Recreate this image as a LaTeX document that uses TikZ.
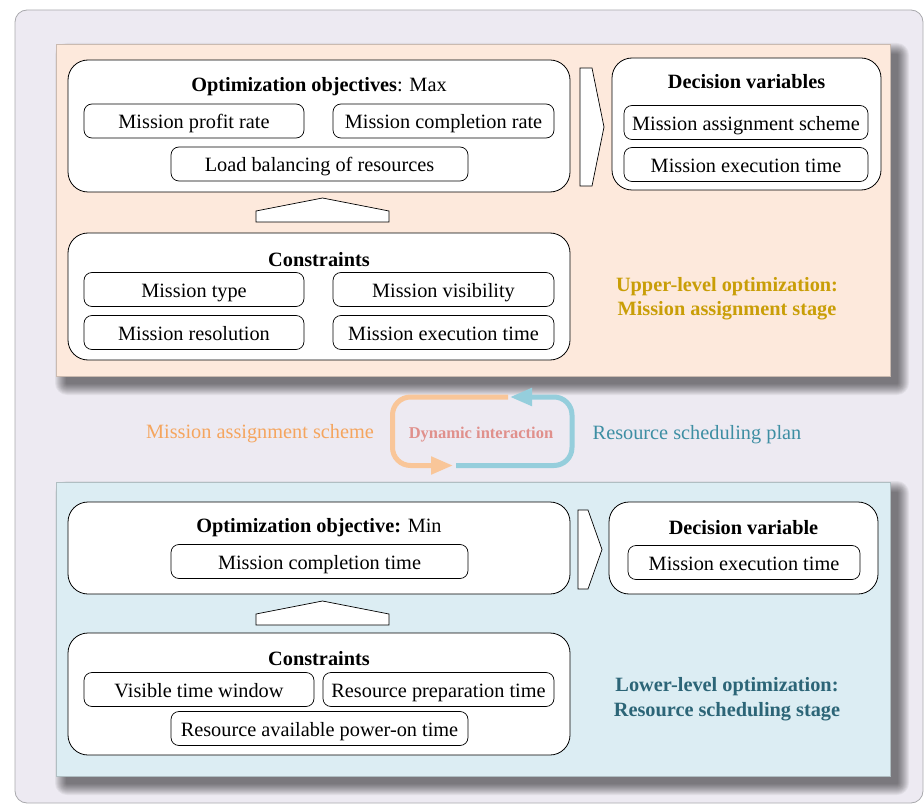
\documentclass[tikz,border=0pt]{standalone}
\usepackage{fontspec}
\setmainfont{Liberation Serif}
\usetikzlibrary{arrows.meta}
\definecolor{framefill}{HTML}{EDEAF2}
\definecolor{framedraw}{HTML}{A9A9AD}
\definecolor{upperfill}{HTML}{FDE9DC}
\definecolor{lowerfill}{HTML}{DCEDF3}
\definecolor{orangeline}{HTML}{F9C699}
\definecolor{tealline}{HTML}{95CEDC}
\definecolor{orangetext}{HTML}{F5A55E}
\definecolor{tealtext}{HTML}{3D8EA3}
\definecolor{dyntext}{HTML}{E0908C}
\definecolor{uppertitle}{HTML}{C99E07}
\definecolor{lowertitle}{HTML}{2C6577}
\begin{document}
\begin{tikzpicture}[x=1pt,y=-1pt,
  font=\fontsize{20.3}{24}\selectfont,
  panel/.style={fill=#1, draw=#1!80!black, line width=0.6pt, inner sep=0pt},
  shadowlayer/.style={fill=black, opacity=0.05},
  bigbox/.style={draw, fill=white, rounded corners=20pt, line width=0.8pt, inner sep=0pt},
  itembox/.style={draw, fill=white, rounded corners=8pt, line width=0.7pt, inner sep=0pt, minimum height=34pt, text height=16pt, text depth=0pt},
  titletext/.style={inner sep=0pt, anchor=base},
  chevron/.style={draw, fill=white, line width=0.7pt, line join=miter},
  stagelabel/.style={font=\fontsize{20.3}{24}\selectfont\bfseries, inner sep=0pt, anchor=base},
  flow/.style={line width=5pt, rounded corners=18pt, -{Triangle[length=22pt,width=17pt]}}
]
\useasboundingbox (0,0) rectangle (924,805);
% outer frame
\node[draw=framedraw, fill=framefill, rounded corners=12pt, minimum width=908pt, minimum height=793pt, inner sep=0pt, line width=0.8pt] (frame) at (469,406.5) {};
% panel shadows
\foreach \r in {1,...,12} {
  \fill[shadowlayer, rounded corners=\r pt] (67-\r,55-\r) rectangle (897+\r,383+\r);
  \fill[shadowlayer, rounded corners=\r pt] (67-\r,493-\r) rectangle (897+\r,783+\r);
}
% panels
\node[panel=upperfill, minimum width=834pt, minimum height=332pt] (upper) at (473,210) {};
\node[panel=lowerfill, minimum width=834pt, minimum height=294pt] (lower) at (473,629) {};

% ---------- upper level ----------
\node[bigbox, minimum width=502pt, minimum height=132pt] (obj1) at (319,126) {};
\node[titletext] (obj1t) at (319,92) {\textbf{Optimization objectives}: Max};
\node[itembox, minimum width=220pt] (u1) at (194,121) {Mission profit rate};
\node[itembox, minimum width=221pt] (u2) at (443.5,121) {Mission completion rate};
\node[itembox, minimum width=297pt] (u3) at (319.5,164) {Load balancing of resources};

\node[bigbox, minimum width=269pt, minimum height=132pt] (dec1) at (746.5,124) {};
\node[titletext] (dec1t) at (746.5,89) {\textbf{Decision variables}};
\node[itembox, minimum width=244pt] (u4) at (746,122.5) {Mission assignment scheme};
\node[itembox, minimum width=244pt] (u5) at (746,164.5) {Mission execution time};

\node[bigbox, minimum width=502pt, minimum height=127pt] (con1) at (319,296.5) {};
\node[titletext] (con1t) at (319,266) {\textbf{Constraints}};
\node[itembox, minimum width=220pt] (u6) at (194,289.5) {Mission type};
\node[itembox, minimum width=221pt] (u7) at (443.5,289.5) {Mission visibility};
\node[itembox, minimum width=220pt] (u8) at (194,332.5) {Mission resolution};
\node[itembox, minimum width=221pt] (u9) at (443.5,332.5) {Mission execution time};

\draw[chevron] (580,68) -- (592,68) -- (604,127) -- (592,186) -- (580,186) -- cycle;
\draw[chevron] (256,222) -- (256,211) -- (322.5,198) -- (389,211) -- (389,222) -- cycle;

\node[stagelabel, text=uppertitle] (ulab1) at (727,291) {Upper-level optimization:};
\node[stagelabel, text=uppertitle] (ulab2) at (727,316) {Mission assignment stage};

% ---------- interaction ----------
\node[inner sep=0pt, anchor=base, text=orangetext] (mas) at (260,438) {Mission assignment scheme};
\node[inner sep=0pt, anchor=base, text=tealtext] (rsp) at (697,439) {Resource scheduling plan};
\node[inner sep=0pt, anchor=base, text=dyntext, font=\fontsize{16.5}{20}\selectfont\bfseries] (dyn) at (481,438) {Dynamic interaction};
\coordinate (o1) at (508,397);
\coordinate (o2) at (392.5,397);
\coordinate (o3) at (392.5,465.5);
\coordinate (o4) at (453,465.5);
\coordinate (t1) at (456,465.5);
\coordinate (t2) at (572,465.5);
\coordinate (t3) at (572,397);
\coordinate (t4) at (510,397);
\draw[flow, orangeline] (o1) -- (o2) -- (o3) -- (o4);
\draw[flow, tealline] (t1) -- (t2) -- (t3) -- (t4);

% ---------- lower level ----------
\node[bigbox, minimum width=502pt, minimum height=92pt] (obj2) at (319,548) {};
\node[titletext] (obj2t) at (319,532) {\textbf{Optimization objective:} Min};
\node[itembox, minimum width=297pt] (l1) at (319.5,561.5) {Mission completion time};

\node[bigbox, minimum width=269pt, minimum height=92pt] (dec2) at (743.5,548) {};
\node[titletext] (dec2t) at (743.5,534) {\textbf{Decision variable}};
\node[itembox, minimum width=232pt] (l2) at (744,562.5) {Mission execution time};

\node[bigbox, minimum width=502pt, minimum height=122pt] (con2) at (319,694) {};
\node[titletext] (con2t) at (319,665) {\textbf{Constraints}};
\node[itembox, minimum width=230pt] (l3) at (199,689.5) {Visible time window};
\node[itembox, minimum width=231pt] (l4) at (438.5,689.5) {Resource preparation time};
\node[itembox, minimum width=297pt] (l5) at (319.5,728.5) {Resource available power-on time};

\draw[chevron] (578,510) -- (588,510) -- (602,549.5) -- (588,589) -- (578,589) -- cycle;
\draw[chevron] (256,625) -- (256,614) -- (322.5,601) -- (389,614) -- (389,625) -- cycle;

\node[stagelabel, text=lowertitle] (llab1) at (727,691) {Lower-level optimization:};
\node[stagelabel, text=lowertitle] (llab2) at (727,716) {Resource scheduling stage};
\end{tikzpicture}
\end{document}
